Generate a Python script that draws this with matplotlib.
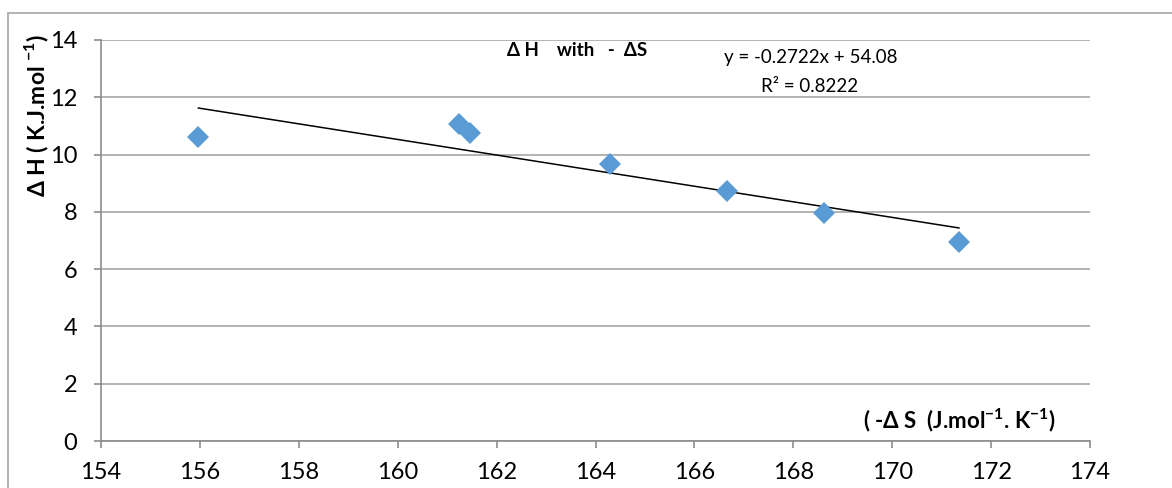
import numpy as np
import matplotlib
matplotlib.use("Agg")
import matplotlib.pyplot as plt
from matplotlib.patches import Rectangle

plt.rcParams['font.family'] = ['Lato', 'DejaVu Sans']
plt.rcParams['mathtext.fontset'] = 'custom'
plt.rcParams['mathtext.rm'] = 'Lato'
plt.rcParams['mathtext.bf'] = 'Lato:bold'

# -dS (J/mol.K) and dH (kJ/mol)
neg_dS = [155.97, 161.24, 161.47, 164.30, 166.65, 168.63, 171.35]
dH = [10.60, 11.06, 10.74, 9.67, 8.74, 7.96, 6.94]

# trendline as printed on the chart
slope = -0.2722
intercept = 54.08
r2 = 0.8222

W, H = 1172, 488
fig = plt.figure(figsize=(W / 100, H / 100), dpi=100)
ax = fig.add_axes([101 / W, 1 - 441 / H, 989 / W, 401 / H])


def px(x, y):
    # pixel position in the picture -> figure fraction
    return x / W, 1 - y / H


# outer chart border (only top/left are visible in the crop)
fig.patches.append(Rectangle((8 / W, -0.1), 1.2, 1.1 - 13 / H,
                             transform=fig.transFigure, fill=False,
                             edgecolor='#a6a6a6', lw=1.2))

grid_c = '#a6a6a6'
ax.set_xlim(154, 174)
ax.set_ylim(0, 14)
ax.set_xticks(np.arange(154, 175, 2))
ax.set_yticks(np.arange(0, 15, 2))
ax.yaxis.grid(True, color=grid_c, lw=1.2)
ax.set_axisbelow(True)
for s in ['top', 'right']:
    ax.spines[s].set_visible(False)
for s in ['left', 'bottom']:
    ax.spines[s].set_color('#8c8c8c')
    ax.spines[s].set_linewidth(1.2)
ax.tick_params(axis='both', colors='#8c8c8c', length=5, width=1.2,
               labelcolor='black', labelsize=17)
ax.tick_params(axis='y', pad=12)
ax.tick_params(axis='x', pad=10)

xs = np.array([min(neg_dS), max(neg_dS)])
ax.plot(xs, slope * xs + intercept, color='black', lw=1.1, zorder=2)
ax.plot(neg_dS, dH, linestyle='none', marker='D', color='#5b9bd5',
        markersize=11, markeredgewidth=0, zorder=3)

fig.text(*px(507, 50), 'Δ H    with   -  ΔS', fontsize=13.5,
         fontweight='bold', ha='left', va='center')
fig.text(*px(811, 57), f'y = {slope}x + {intercept:.2f}',
         fontsize=13.5, ha='center', va='center')
fig.text(*px(810, 86), f'R² = {r2}',
         fontsize=13.5, ha='center', va='center')

fig.text(*px(1056, 420), r'( -Δ S  (J.mol$^{\mathbf{-1}}$. K$^{\mathbf{-1}}$)',
         fontsize=16, fontweight='bold', ha='right', va='center')
fig.text(*px(37, 115), r'Δ H ( K.J.mol $^{\mathbf{-1}}$)',
         rotation=90, fontsize=16.5, fontweight='bold', ha='center',
         va='center')

fig.savefig('out.png', dpi=100)
